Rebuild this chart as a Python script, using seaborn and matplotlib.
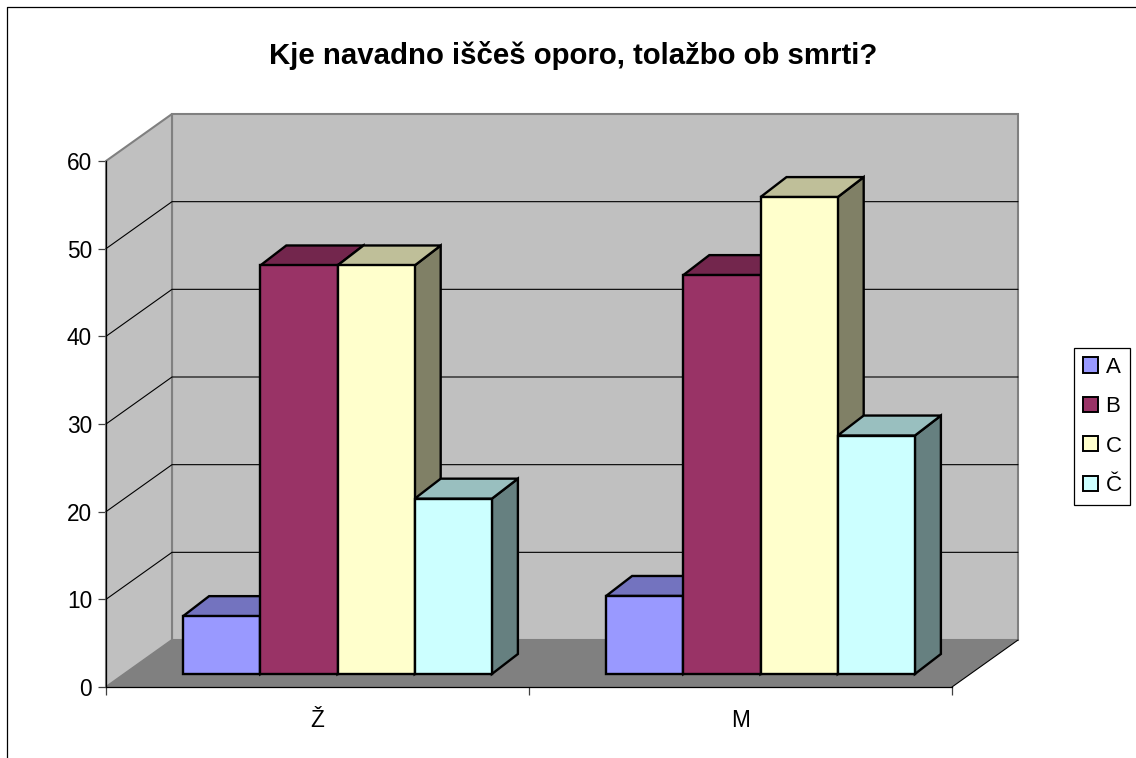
import matplotlib
matplotlib.use("Agg")
import matplotlib.pyplot as plt
import seaborn as sns
import pandas as pd
from matplotlib.patches import Polygon, Patch
from matplotlib.lines import Line2D

groups = ["Ž", "M"]
series = ["A", "B", "C", "Č"]
values_z = [6.6, 46.6, 46.6, 20.0]
values_m = [8.9, 45.5, 54.4, 27.2]
colors = ["#9999FF", "#993366", "#FFFFCC", "#CCFFFF"]
title = "Kje navadno iščeš oporo, tolažbo ob smrti?"
yticks = [0, 10, 20, 30, 40, 50, 60]

W, H = 1136, 758
sns.set_style("white")
plt.rcParams["font.family"] = ["Liberation Sans", "DejaVu Sans"]
plt.rcParams["text.color"] = "black"
plt.rcParams["xtick.color"] = "black"
plt.rcParams["ytick.color"] = "black"

fig = plt.figure(figsize=(W / 100, H / 100), dpi=100, facecolor="white")
L, R, B, T = 106, 952, 687, 161
ax = fig.add_axes([L / W, 1 - B / H, (R - L) / W, (B - T) / H])
ax.patch.set_alpha(0)

df = pd.DataFrame({
    "group": [g for g in groups for _ in series],
    "series": series * 2,
    "value": values_z + values_m,
})
sns.barplot(data=df, x="group", y="value", hue="series", hue_order=series,
            order=groups, palette=colors, width=0.73, gap=0, saturation=1,
            edgecolor="black", linewidth=1.7, legend=False, errorbar=None, ax=ax)
ax.set_xlim(-0.5, 1.5)
ax.set_ylim(0, 60)

# pixel → data-unit scales for the oblique projection
sx = 2 / (R - L)
sy = 60 / (B - T)
wall_dx, wall_dy = 66 * sx, 47 * sy      # depth of the chart box
bar_dx, bar_dy = 20 * sx, 13 * sy        # bars stand inside the floor
depth_dx, depth_dy = 26 * sx, 20 * sy    # depth of each bar


def shade(color, k):
    r, g, b = matplotlib.colors.to_rgb(color)
    return (r * k, g * k, b * k)


x0, x1 = ax.get_xlim()
y0, y1 = ax.get_ylim()
gray = "#808080"
wall = "#C0C0C0"
kw = dict(clip_on=False, joinstyle="miter")

bars = sorted([p for c in ax.containers for p in c], key=lambda p: p.get_x())

# back wall, side wall, floor
ax.add_patch(Polygon([(x0 + wall_dx, y0 + wall_dy), (x1 + wall_dx, y0 + wall_dy),
                      (x1 + wall_dx, y1 + wall_dy), (x0 + wall_dx, y1 + wall_dy)],
                     fc=wall, ec=gray, lw=1.5, zorder=0.5, **kw))
ax.add_patch(Polygon([(x0, y0), (x0 + wall_dx, y0 + wall_dy),
                      (x0 + wall_dx, y1 + wall_dy), (x0, y1)],
                     fc=wall, ec=gray, lw=1.5, zorder=0.6, **kw))
ax.add_patch(Polygon([(x0, y0), (x0 + wall_dx, y0 + wall_dy),
                      (x1 + wall_dx, y0 + wall_dy), (x1, y0)],
                     fc=gray, ec="none", zorder=0.7, **kw))
ax.add_line(Line2D([x1, x1 + wall_dx], [y0, y0 + wall_dy], color="black", lw=0.8,
                   zorder=0.8, clip_on=False))

# gridlines on the back and side walls
for v in yticks[1:-1]:
    ax.add_line(Line2D([x0, x0 + wall_dx, x1 + wall_dx],
                       [v, v + wall_dy, v + wall_dy],
                       color="black", lw=0.8, zorder=1, clip_on=False))

# oblique bars: sides, tops, shifted fronts, painted left to right
z = 5
for bar in bars:
    xa = bar.get_x() + bar_dx
    xb = xa + bar.get_width()
    ya = bar_dy
    yb = bar.get_height() + bar_dy
    face = bar.get_facecolor()
    edge = dict(ec="black", lw=1.7, **kw)
    ax.add_patch(Polygon([(xb, ya), (xb + depth_dx, ya + depth_dy),
                          (xb + depth_dx, yb + depth_dy), (xb, yb)],
                         fc=shade(face, 0.5), zorder=z, **edge))
    ax.add_patch(Polygon([(xa, yb), (xa + depth_dx, yb + depth_dy),
                          (xb + depth_dx, yb + depth_dy), (xb, yb)],
                         fc=shade(face, 0.75), zorder=z + 0.1, **edge))
    bar.set_x(xa)
    bar.set_y(ya)
    bar.set_clip_on(False)
    bar.set_zorder(z + 0.2)
    bar.set_joinstyle("miter")
    z += 1

# axes furniture
sns.despine(ax=ax, top=True, right=True)
for s in ("left", "bottom"):
    ax.spines[s].set_color("black")
    ax.spines[s].set_linewidth(0.9)
    ax.spines[s].set_zorder(2)
ax.set_xlabel("")
ax.set_ylabel("")
ax.set_yticks(yticks)
ax.set_xticks([0, 1])
ax.set_xticklabels(groups)
ax.set_xticks([-0.5, 0.5, 1.5], minor=True)
ax.tick_params(axis="y", which="major", left=True, length=6, width=0.9, color="#404040",
               labelsize=16.3, pad=4, labelcolor="black")
ax.tick_params(axis="x", which="major", bottom=False, labelsize=16.3, pad=12, labelcolor="black")
ax.tick_params(axis="x", which="minor", bottom=True, length=6, width=0.9, color="#404040")

fig.text(573 / W, 1 - 55 / H, title, ha="center", va="center",
         fontsize=21.2, fontweight="bold", color="black")

handles = [Patch(fc=c, ec="black", lw=1.4) for c in colors]
leg = fig.legend(handles, series, loc="upper left",
                 bbox_to_anchor=(1074 / W, 1 - 348 / H), bbox_transform=fig.transFigure,
                 fontsize=16, frameon=True, fancybox=False, edgecolor="black",
                 framealpha=1, borderaxespad=0, borderpad=0.39, labelspacing=0.83,
                 handlelength=0.68, handleheight=0.68, handletextpad=0.35)
leg.get_frame().set_linewidth(0.9)

# chart-area frame (top and left edges)
fig.add_artist(Line2D([6.8 / W, 6.8 / W, 1], [0, 1 - 6.8 / H, 1 - 6.8 / H],
                      color="black", lw=0.9))

fig.savefig("out.png", dpi=100, facecolor="white")
